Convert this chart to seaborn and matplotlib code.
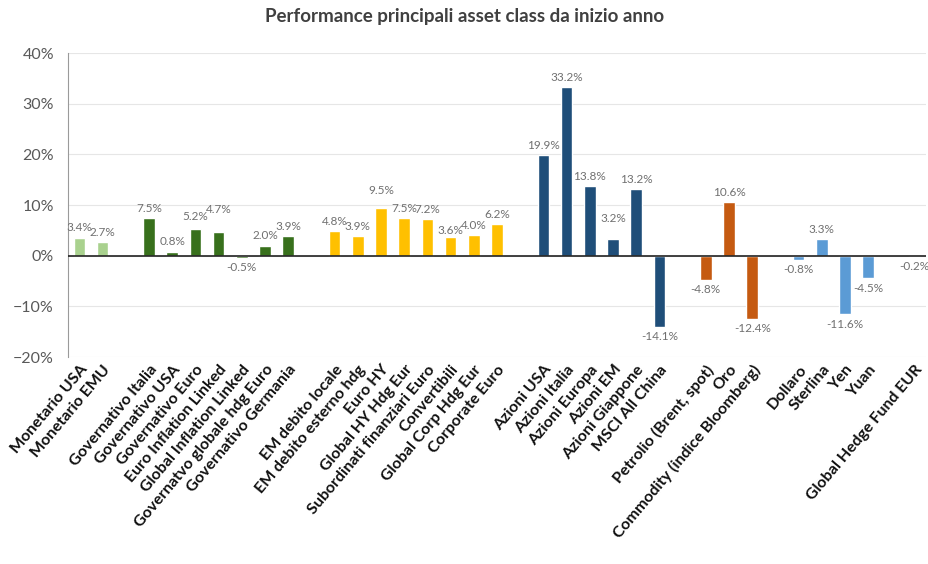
import pandas as pd
import numpy as np
import matplotlib.pyplot as plt
import matplotlib.ticker as ticker
import seaborn as sns

# dati (% da inizio anno)
monetario = ['Monetario USA', 'Monetario EMU']
monetario_val = [3.4, 2.7]
governativi = ['Governativo Italia', 'Governativo USA', 'Governativo Euro', 'Euro Inflation Linked',
               'Global Inflation Linked', 'Governatvo globale hdg Euro', 'Governativo Germania']
governativi_val = [7.5, 0.8, 5.2, 4.7, -0.5, 2.0, 3.9]
credito = ['EM debito locale', 'EM debito esterno hdg', 'Euro HY', 'Global HY Hdg Eur',
           'Subordinati finanziari Euro', 'Convertibili', 'Global Corp Hdg Eur', 'Corporate Euro']
credito_val = [4.8, 3.9, 9.5, 7.5, 7.2, 3.6, 4.0, 6.2]
azioni = ['Azioni USA', 'Azioni Italia', 'Azioni Europa', 'Azioni EM', 'Azioni Giappone', 'MSCI All China']
azioni_val = [19.9, 33.2, 13.8, 3.2, 13.2, -14.1]
commodity = ['Petrolio (Brent, spot)', 'Oro', 'Commodity (indice Bloomberg)']
commodity_val = [-4.8, 10.6, -12.4]
valute = ['Dollaro', 'Sterlina', 'Yen', 'Yuan']
valute_val = [-0.8, 3.3, -11.6, -4.5]
hedge = ['Global Hedge Fund EUR']
hedge_val = [-0.2]

gruppi = [('monetario', monetario, monetario_val, '#a9d18e'),
          ('governativi', governativi, governativi_val, '#38701c'),
          ('credito', credito, credito_val, '#ffc000'),
          ('azioni', azioni, azioni_val, '#1f4e79'),
          ('commodity', commodity, commodity_val, '#c55a11'),
          ('valute', valute, valute_val, '#5b9bd5'),
          ('hedge', hedge, hedge_val, '#5b9bd5')]

# spostamento verticale extra (punti) di alcune etichette, come nell'originale
extra = {'Euro Inflation Linked': 9, 'Euro HY': 5, 'Governativo Euro': 2,
         'Convertibili': -2, 'Monetario USA': 1, 'Azioni EM': 8}

rows = []
order = []
palette = {}
for i, (g, cats, vals, col) in enumerate(gruppi):
    if i > 0:
        order.append(' ' * i)  # slot vuoto tra i gruppi
    for c, v in zip(cats, vals):
        rows.append({'asset': c, 'perf': v / 100, 'gruppo': g})
        order.append(c)
    palette[g] = col
df = pd.DataFrame(rows)

sns.set_style('white')
plt.rcParams['font.family'] = ['Lato', 'DejaVu Sans']

fig = plt.figure(figsize=(9.29, 5.64), dpi=100)
ax = fig.add_axes([0.073, 0.367, 0.924, 0.539])

sns.barplot(data=df, x='asset', y='perf', hue='gruppo', order=order, palette=palette,
            dodge=False, width=0.5, legend=False, ax=ax, saturation=1)

ax.set_ylim(-0.2, 0.4)
ax.set_xlim(-0.5, len(order) - 0.5)
ax.yaxis.set_major_locator(ticker.MultipleLocator(0.1))
ax.yaxis.set_major_formatter(ticker.PercentFormatter(xmax=1, decimals=0))
ax.grid(axis='y', color='#e6e6e6', linewidth=0.8)
ax.set_axisbelow(True)
ax.axhline(0, color='#222222', linewidth=1.2, zorder=3)
for s in ['top', 'right', 'bottom']:
    ax.spines[s].set_visible(False)
ax.spines['left'].set_color('#9a9a9a')
ax.tick_params(axis='y', labelsize=11.5, labelcolor='#595959', length=0, pad=10)
ax.tick_params(axis='x', length=0, pad=4)
ax.set_xlabel('')
ax.set_ylabel('')
plt.setp(ax.get_xticklabels(), rotation=50, ha='right', rotation_mode='anchor',
         fontsize=11.5, fontweight='bold', color='#111111')

# etichette dei valori
for _, r in df.iterrows():
    x = order.index(r['asset'])
    v = r['perf']
    dy = (3 if v >= 0 else -3) + extra.get(r['asset'], 0)
    ax.annotate(f'{v * 100:.1f}%', (x, v), xytext=(0, dy), textcoords='offset points',
                ha='center', va='bottom' if v >= 0 else 'top', fontsize=8.5, color='#707070',
                family=['Liberation Sans Narrow', 'Lato'])

fig.suptitle('Performance principali asset class da inizio anno', x=0.5, y=0.985,
             fontsize=13.5, color='#404040', fontweight='bold')

plt.savefig('out.png', dpi=100)
plt.close()
